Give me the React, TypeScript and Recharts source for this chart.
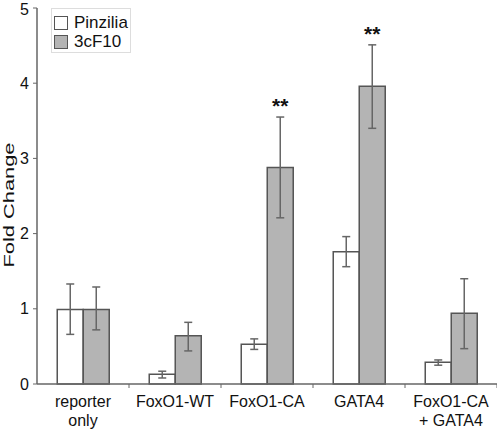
import { Bar, BarChart, ErrorBar, LabelList, Legend, XAxis, YAxis } from "recharts";

const categories = ["reporter only", "FoxO1-WT", "FoxO1-CA", "GATA4", "FoxO1-CA + GATA4"];
const tickLines = [["reporter", "only"], ["FoxO1-WT"], ["FoxO1-CA"], ["GATA4"], ["FoxO1-CA", "+ GATA4"]];

const pinzilia = [0.99, 0.13, 0.53, 1.76, 0.29];
const pinziliaLow = [0.66, 0.08, 0.46, 1.56, 0.25];
const pinziliaHigh = [1.33, 0.17, 0.6, 1.96, 0.32];

const c3F10 = [0.99, 0.64, 2.88, 3.96, 0.94];
const c3F10Low = [0.72, 0.44, 2.21, 3.4, 0.47];
const c3F10High = [1.29, 0.82, 3.55, 4.51, 1.4];

const significance = ["", "", "**", "**", ""];
const yTicks = [0, 1, 2, 3, 4, 5];

const rows = categories.map((name, i) => ({
  name,
  pinzilia: pinzilia[i],
  pinziliaErr: [pinzilia[i] - pinziliaLow[i], pinziliaHigh[i] - pinzilia[i]],
  c3F10: c3F10[i],
  c3F10Err: [c3F10[i] - c3F10Low[i], c3F10High[i] - c3F10[i]],
}));

const FONT = "Arial, 'Liberation Sans', sans-serif";
const AXIS = "#666";
const GRAY = "#b4b4b4";

function CategoryTick(props: any) {
  const { x, y, payload, index } = props;
  const half = payload?.offset ?? 46;
  const lines = tickLines[index] ?? [payload.value];
  return (
    <g>
      <line x1={x + half} x2={x + half} y1={y - 8} y2={y - 4} stroke={AXIS} strokeWidth={1} />
      <text x={x} y={y + 15} textAnchor="middle" fontSize={16} fontFamily={FONT} fill="#111">
        {lines.map((line: string, k: number) => (
          <tspan key={k} x={x} dy={k === 0 ? 0 : 19}>
            {line}
          </tspan>
        ))}
      </text>
    </g>
  );
}

function Stars(props: any) {
  const { x, y, width, height, value, index } = props;
  const mark = significance[index];
  if (!mark || !value) return null;
  const perUnit = height / value;
  const top = y - (c3F10High[index] - c3F10[index]) * perUnit;
  return (
    <text x={x + width / 2} y={top - 4} textAnchor="middle" fontSize={21} fontWeight="bold" fontFamily={FONT} fill="#111">
      {mark}
    </text>
  );
}

function LegendBox() {
  const items = [
    { label: "Pinzilia", fill: "#fff" },
    { label: "3cF10", fill: GRAY },
  ];
  return (
    <div style={{ border: "1px solid #ddd", width: 80, height: 45, boxSizing: "border-box", padding: "4px 0 0 2px", background: "#fff" }}>
      {items.map((it) => (
        <div key={it.label} style={{ display: "flex", alignItems: "center", height: 19, fontFamily: FONT, fontSize: 17, color: "#111" }}>
          <span style={{ width: 12, height: 12, border: "1px solid #555", background: it.fill, marginRight: 6, display: "inline-block" }} />
          {it.label}
        </div>
      ))}
    </div>
  );
}

function FoldLabel(props: any) {
  const { viewBox } = props;
  const cy = viewBox.y + viewBox.height / 2 + 9;
  const cx = 14;
  return (
    <text
      x={cx}
      y={cy}
      transform={`rotate(-90, ${cx}, ${cy})`}
      textAnchor="middle"
      fontSize={15}
      fontFamily={FONT}
      fill="#111"
      textLength={125}
      lengthAdjust="spacingAndGlyphs"
    >
      Fold Change
    </text>
  );
}

export default function App() {
  return (
    <div style={{ position: "absolute", left: 0, top: 0, background: "#fff" }}>
      <BarChart
        width={497}
        height={430}
        data={rows}
        margin={{ top: 8, right: 0, bottom: 0, left: 0 }}
        barCategoryGap="22%"
        barGap={0}
      >
        <XAxis
          dataKey="name"
          height={46}
          axisLine={{ stroke: AXIS, strokeWidth: 1.5 }}
          tickLine={false}
          tick={<CategoryTick />}
          interval={0}
        />
        <YAxis
          width={37}
          domain={[0, 5]}
          ticks={yTicks}
          axisLine={{ stroke: AXIS, strokeWidth: 1.5 }}
          tickLine={{ stroke: AXIS }}
          tickSize={4}
          tickMargin={4}
          tick={{ fontSize: 16, fontFamily: FONT, fill: "#111" }}
          label={<FoldLabel />}
        />
        <Legend
          layout="vertical"
          align="center"
          verticalAlign="middle"
          content={<LegendBox />}
          wrapperStyle={{ position: "absolute", left: 51, top: 8, width: 80 }}
        />
        <Bar dataKey="pinzilia" name="Pinzilia" fill="#fff" stroke="#555" strokeWidth={1.5} isAnimationActive={false}>
          <ErrorBar dataKey="pinziliaErr" width={4} stroke="#666" strokeWidth={1.5} />
        </Bar>
        <Bar dataKey="c3F10" name="3cF10" fill={GRAY} stroke="#555" strokeWidth={1.5} isAnimationActive={false}>
          <ErrorBar dataKey="c3F10Err" width={4} stroke="#666" strokeWidth={1.5} />
          <LabelList dataKey="c3F10" content={<Stars />} />
        </Bar>
      </BarChart>
    </div>
  );
}
